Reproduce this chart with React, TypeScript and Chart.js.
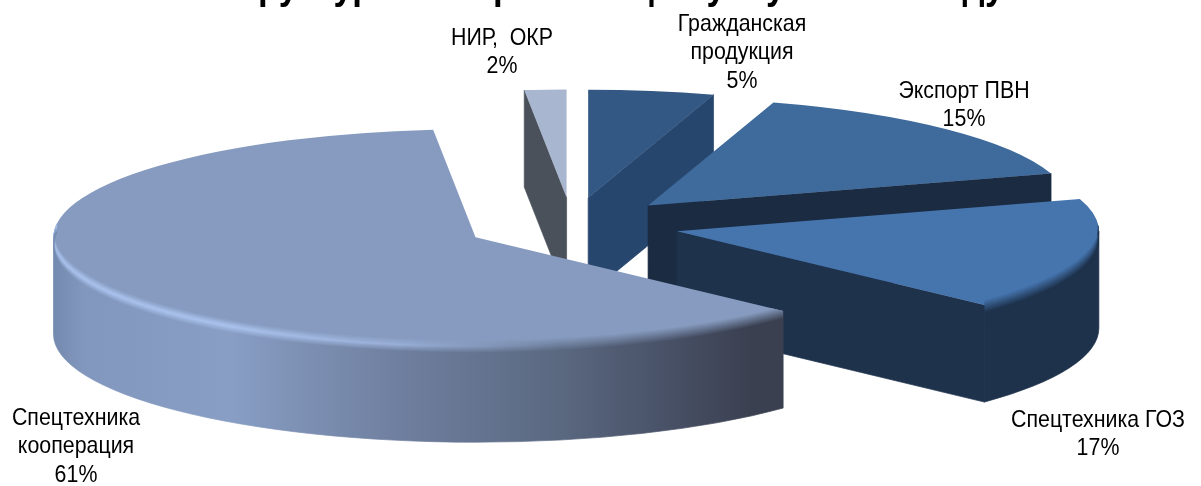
import React, { useEffect, useRef } from "react";
import { Chart, registerables } from "chart.js";

Chart.register(...registerables);

const CATEGORIES: string[][] = [
  ["Гражданская", "продукция"],
  ["Экспорт ПВН"],
  ["Спецтехника ГОЗ"],
  ["Спецтехника", "кооперация"],
  ["НИР,  ОКР"],
];
const VALUES = [4.8, 15.4, 16.8, 61.4, 1.6];
const TOP_COLORS = ["#335884", "#3f6a9c", "#4675ae", "#869bbf", "#a9b6cf"];
const SIDE_COLORS = ["#27466e", "#1a2b42", "#1e324c", "#7f93b8", "#4a515a"];
const BEVELLED = [2, 3];
const TITLE = "Структура всей реализации услуг в 2014 году";

// Label centres, one [x, y of first line] per category
const LABEL_POS = [
  [742, 24],
  [964, 91],
  [1098, 420],
  [76, 418],
  [502, 38],
];

// Projection of the flat pie on to the tilted plane
const CENTER_X = 572;
const CENTER_Y = 225;
const RX = 422;
const RY = 108;
const EXPLODE = 0.255;
const DEPTH = 97;

// Rim shading of the largest slice, left to right
const RIM_STOPS: [number, string][] = [
  [0, "#7389ae"],
  [0.04, "#8197bd"],
  [0.24, "#889ec4"],
  [0.47, "#6f7f9f"],
  [0.69, "#5a6880"],
  [0.86, "#454d62"],
  [0.95, "#3a4050"],
  [1, "#3a4050"],
];

const hex = (c: string) => [1, 3, 5].map((i) => parseInt(c.slice(i, i + 2), 16));
const mix = (a: string, b: string, t: number) => {
  const A = hex(a);
  const B = hex(b);
  const v = A.map((x, i) => Math.round(x + (B[i] - x) * t));
  return "#" + v.map((x) => x.toString(16).padStart(2, "0")).join("");
};

const piePlugin = {
  id: "tiltedPie",
  beforeDatasetsDraw(chart: any) {
    const ctx: CanvasRenderingContext2D = chart.ctx;
    const arcs: any[] = chart.getDatasetMeta(0).data;
    const rimIndex = VALUES.indexOf(Math.max(...VALUES));
    const rimLeft = 53;
    const rimRight = 788;

    const order = arcs
      .map((a, i) => ({ a, i, mid: (a.startAngle + a.endAngle) / 2 }))
      .sort((p, q) => Math.sin(p.mid) - Math.sin(q.mid));

    order.forEach(({ a, i, mid }) => {
      const ax = CENTER_X + Math.cos(mid) * EXPLODE * RX;
      const ay = CENTER_Y + Math.sin(mid) * EXPLODE * RY;
      const isRim = i === rimIndex;

      let sideFill: any = SIDE_COLORS[i];
      if (isRim) {
        const g = ctx.createLinearGradient(rimLeft, 0, rimRight, 0);
        RIM_STOPS.forEach(([o, c]) => g.addColorStop(o, c));
        sideFill = g;
      }
      const wallFrom = Math.max(a.startAngle, 0);
      const wallTo = Math.min(a.endAngle, Math.PI);
      const wallPath = () => {
        ctx.moveTo(ax + Math.cos(wallFrom) * RX, ay + Math.sin(wallFrom) * RY);
        ctx.ellipse(ax, ay, RX, RY, 0, wallFrom, wallTo);
        ctx.ellipse(ax, ay + DEPTH, RX, RY, 0, wallTo, wallFrom, true);
        ctx.closePath();
      };
      ctx.save();
      ctx.fillStyle = sideFill;
      ctx.strokeStyle = sideFill;
      ctx.lineWidth = 0.7;
      // outer wall: only the part that faces the viewer
      if (wallFrom < wallTo) {
        ctx.beginPath();
        wallPath();
        ctx.fill();
        ctx.stroke();
      }
      // the cut walls that face the viewer
      const cuts: number[] = [];
      if (Math.cos(a.startAngle) < 0) cuts.push(a.startAngle);
      if (Math.cos(a.endAngle) > 0) cuts.push(a.endAngle);
      cuts.forEach((ang: number) => {
        const ex = ax + Math.cos(ang) * RX;
        const ey = ay + Math.sin(ang) * RY;
        ctx.beginPath();
        ctx.moveTo(ax, ay);
        ctx.lineTo(ex, ey);
        ctx.lineTo(ex, ey + DEPTH);
        ctx.lineTo(ax, ay + DEPTH);
        ctx.closePath();
        ctx.fill();
        ctx.stroke();
      });
      ctx.restore();

      // the top face is the library's own arc, projected
      ctx.save();
      ctx.translate(ax, ay);
      ctx.scale(RX / a.outerRadius, RY / a.outerRadius);
      ctx.translate(-a.x, -a.y);
      a.draw(ctx);
      ctx.restore();

      if (BEVELLED.includes(i)) {
        const from = Math.max(a.startAngle, -0.05);
        const to = isRim ? Math.min(a.endAngle, Math.PI + 0.12) : a.endAngle;
        const steps = 14;
        ctx.save();
        ctx.beginPath();
        ctx.moveTo(ax, ay);
        ctx.ellipse(ax, ay, RX, RY, 0, a.startAngle, a.endAngle);
        ctx.closePath();
        wallPath();
        ctx.clip();
        for (let k = 0; k <= steps; k++) {
          const t = k / steps;
          const dy = -5 + t * 13;
          ctx.lineWidth = 1.6;
          ctx.beginPath();
          ctx.ellipse(ax, ay + dy, RX, RY, 0, from, to);
          if (isRim) {
            const g = ctx.createLinearGradient(rimLeft, 0, rimRight, 0);
            RIM_STOPS.forEach(([o, c]) => {
              const glow = Math.max(0, Math.min(1, (0.66 - o) / 0.3));
              const hl = mix(mix(TOP_COLORS[i], c, 0.5), "#aac3ee", glow);
              const col = t < 0.5 ? mix(TOP_COLORS[i], hl, t * 2) : mix(hl, c, (t - 0.5) * 2);
              g.addColorStop(o, col);
            });
            ctx.strokeStyle = g;
          } else {
            ctx.strokeStyle = mix(TOP_COLORS[i], SIDE_COLORS[i], t);
          }
          ctx.stroke();
        }
        ctx.restore();
      }
    });
    return false;
  },
  afterDraw(chart: any) {
    const ctx: CanvasRenderingContext2D = chart.ctx;
    const narrow = 0.89;
    ctx.save();
    ctx.fillStyle = "#000000";
    ctx.textAlign = "center";
    ctx.textBaseline = "middle";
    ctx.font = '24px "Liberation Sans"';
    CATEGORIES.forEach((lines, i) => {
      const [x, y] = LABEL_POS[i];
      const rows = [...lines, `${Math.round(VALUES[i])}%`];
      rows.forEach((row, r) => {
        ctx.save();
        ctx.translate(x, y + r * 28.7);
        ctx.scale(narrow, 1);
        ctx.fillText(row, 0, 0);
        ctx.restore();
      });
    });
    ctx.font = 'bold 40px "Liberation Sans"';
    ctx.textBaseline = "alphabetic";
    ctx.translate(610, -1);
    ctx.scale(0.87, 1);
    ctx.fillText(TITLE, 0, 0);
    ctx.restore();
  },
};

export default function App() {
  const ref = useRef<HTMLCanvasElement>(null);
  useEffect(() => {
    document.body.style.margin = "0";
    const chart = new Chart(ref.current as HTMLCanvasElement, {
      type: "pie",
      data: {
        labels: CATEGORIES.map((c) => c.join(" ")),
        datasets: [{ data: VALUES, backgroundColor: TOP_COLORS, borderWidth: 0 }],
      },
      options: {
        responsive: false,
        animation: false,
        plugins: { legend: { display: false }, tooltip: { enabled: false }, title: { display: false } },
        events: [],
      },
      plugins: [piePlugin],
    } as any);
    return () => chart.destroy();
  }, []);
  return (
    <canvas
      ref={ref}
      width={1201}
      height={486}
      style={{ display: "block", width: 1201, height: 486, filter: "blur(0.45px)" }}
    />
  );
}
